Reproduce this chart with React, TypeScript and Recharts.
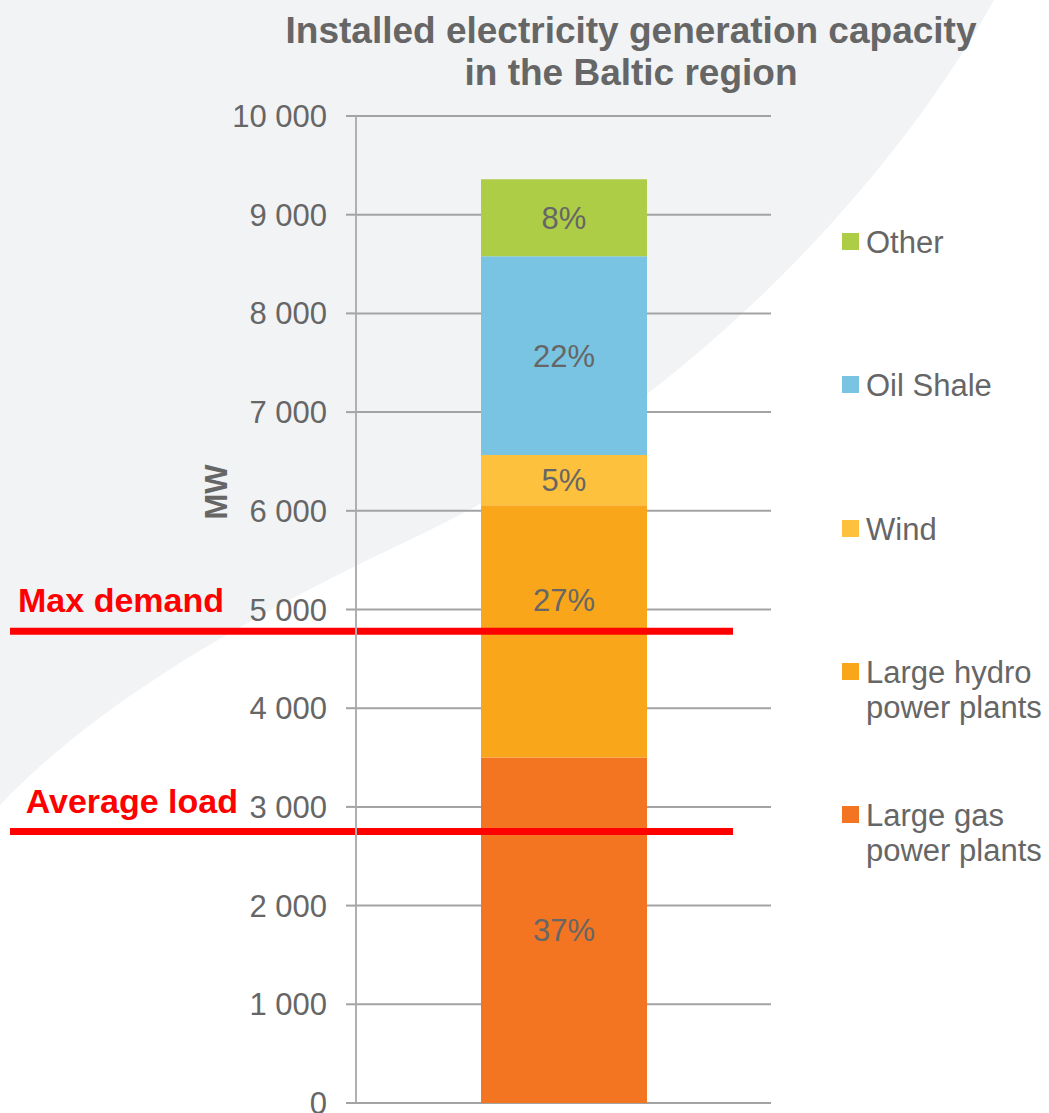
import React from 'react';
import { BarChart, Bar, XAxis, YAxis, CartesianGrid, ReferenceLine, LabelList, Legend } from 'recharts';

// ---------- data ----------
const categories = ['Baltic region'];
const seriesKeys = ['gas', 'hydro', 'wind', 'oilShale', 'other'];
const seriesNames = ['Large gas\npower plants', 'Large hydro\npower plants', 'Wind', 'Oil Shale', 'Other'];
const seriesColors = ['#f37421', '#f9a61b', '#fec13d', '#79c4e3', '#aecd47'];
const gasMW = [3500];
const hydroMW = [2555];
const windMW = [510];
const oilShaleMW = [2015];
const otherMW = [780];
const yTicks = [0, 1000, 2000, 3000, 4000, 5000, 6000, 7000, 8000, 9000, 10000];
const maxDemandMW = 4780;
const averageLoadMW = 2750;
const titleLines = ['Installed electricity generation capacity', 'in the Baltic region'];
const yAxisTitle = 'MW';

const seriesValues = [gasMW, hydroMW, windMW, oilShaleMW, otherMW];
const data = categories.map((c, i) => {
  const row: any = { category: c };
  let total = 0;
  seriesKeys.forEach((k, s) => {
    row[k] = seriesValues[s][i];
    total += seriesValues[s][i];
  });
  row.total = total;
  return row;
});

// ---------- styles ----------
const FONT = '"Liberation Sans", Arial, Helvetica, sans-serif';
const TEXT_GREY = '#666666';
const GRID_GREY = '#a3a3a3';
const RED = '#ff0000';

const fmt = (v: number) => String(v).replace(/\B(?=(\d{3})+(?!\d))/g, ' ');

const labelShift: Record<string, number> = { hydro: -31 };

const makeLabel = (key: string) => (props: any) => {
  const { x, y, width, height, value, index } = props;
  const total = data[index].total;
  const pct = Math.round((value / total) * 100);
  const cx = x + width / 2;
  const cy = y + height / 2 + (labelShift[key] || 0);
  return (
    <text x={cx} y={cy + 11} textAnchor="middle" fill={TEXT_GREY} fontSize={31} fontFamily={FONT}>
      {pct}%
    </text>
  );
};

const makeRefShape = (label: string, textEndX: number) => (props: any) => {
  const y = props.y1;
  return (
    <g>
      <line x1={10} y1={y} x2={733} y2={y} stroke={RED} strokeWidth={7} />
      <text x={textEndX} y={y - 19} textAnchor="end" fill={RED} fontSize={34} fontWeight="bold" fontFamily={FONT}>
        {label}
      </text>
    </g>
  );
};

const CustomLegend = () => {
  const order = [4, 3, 2, 1, 0];
  return (
    <div style={{ position: 'relative', width: 207, height: 620, fontFamily: FONT }}>
      {order.map((s, i) => (
        <div key={seriesKeys[s]} style={{ position: 'absolute', left: 0, top: i * 143.3, width: 207 }}>
          <div style={{ position: 'absolute', left: 0, top: 0, width: 17, height: 17, background: seriesColors[s] }} />
          <div
            style={{
              position: 'absolute',
              left: 24,
              top: -8,
              fontSize: 31,
              lineHeight: '35px',
              color: TEXT_GREY,
              whiteSpace: 'pre',
            }}
          >
            {seriesNames[s]}
          </div>
        </div>
      ))}
    </div>
  );
};

const MWLabel = () => (
  <text
    x={227}
    y={492}
    transform="rotate(-90 227 492)"
    textAnchor="middle"
    fill={TEXT_GREY}
    fontSize={31}
    fontWeight="bold"
    fontFamily={FONT}
  >
    {yAxisTitle}
  </text>
);

export default function App() {
  return (
    <div style={{ position: 'absolute', left: 0, top: 0, width: 1049, height: 1113, background: '#ffffff', overflow: 'hidden' }}>
      <svg width={1049} height={1113} style={{ position: 'absolute', left: 0, top: 0 }}>
        <path
          d="M0,0 L994,0 C900,170 700,400 420,535 C250,615 100,700 0,805 Z"
          fill="#f2f3f5"
        />
      </svg>
      <div
        style={{
          position: 'absolute',
          left: 231,
          top: 10,
          width: 800,
          textAlign: 'center',
          fontFamily: FONT,
          fontWeight: 'bold',
          fontSize: 37,
          lineHeight: '42px',
          color: TEXT_GREY,
        }}
      >
        {titleLines.map((t) => (
          <div key={t}>{t}</div>
        ))}
      </div>
      <div style={{ position: 'absolute', left: 0, top: 0 }}>
        <BarChart
          width={1049}
          height={1113}
          data={data}
          margin={{ top: 116, right: 278, bottom: 10, left: 0 }}
        >
          <CartesianGrid horizontal vertical={false} stroke={GRID_GREY} strokeWidth={2} />
          <XAxis dataKey="category" hide />
          <YAxis
            width={356}
            domain={[0, 10000]}
            ticks={yTicks}
            interval={0}
            tickFormatter={fmt}
            tickSize={10}
            tickMargin={19}
            axisLine={{ stroke: '#b0b0b0', strokeWidth: 2 }}
            tickLine={{ stroke: GRID_GREY, strokeWidth: 2 }}
            tick={{ fill: TEXT_GREY, fontSize: 31, fontFamily: FONT }}
            label={<MWLabel />}
          />
          <Legend
            layout="horizontal"
            verticalAlign="middle"
            align="center"
            wrapperStyle={{ left: 842, top: 233, width: 207, height: 620 }}
            content={() => <CustomLegend />}
          />
          {seriesKeys.map((k, s) => (
            <Bar
              key={k}
              dataKey={k}
              name={seriesNames[s]}
              stackId="cap"
              fill={seriesColors[s]}
              barSize={166}
              isAnimationActive={false}
            >
              <LabelList dataKey={k} content={makeLabel(k)} />
            </Bar>
          ))}
          <ReferenceLine y={maxDemandMW} ifOverflow="visible" shape={makeRefShape('Max demand', 224)} />
          <ReferenceLine y={averageLoadMW} ifOverflow="visible" shape={makeRefShape('Average load', 238)} />
        </BarChart>
      </div>
    </div>
  );
}
